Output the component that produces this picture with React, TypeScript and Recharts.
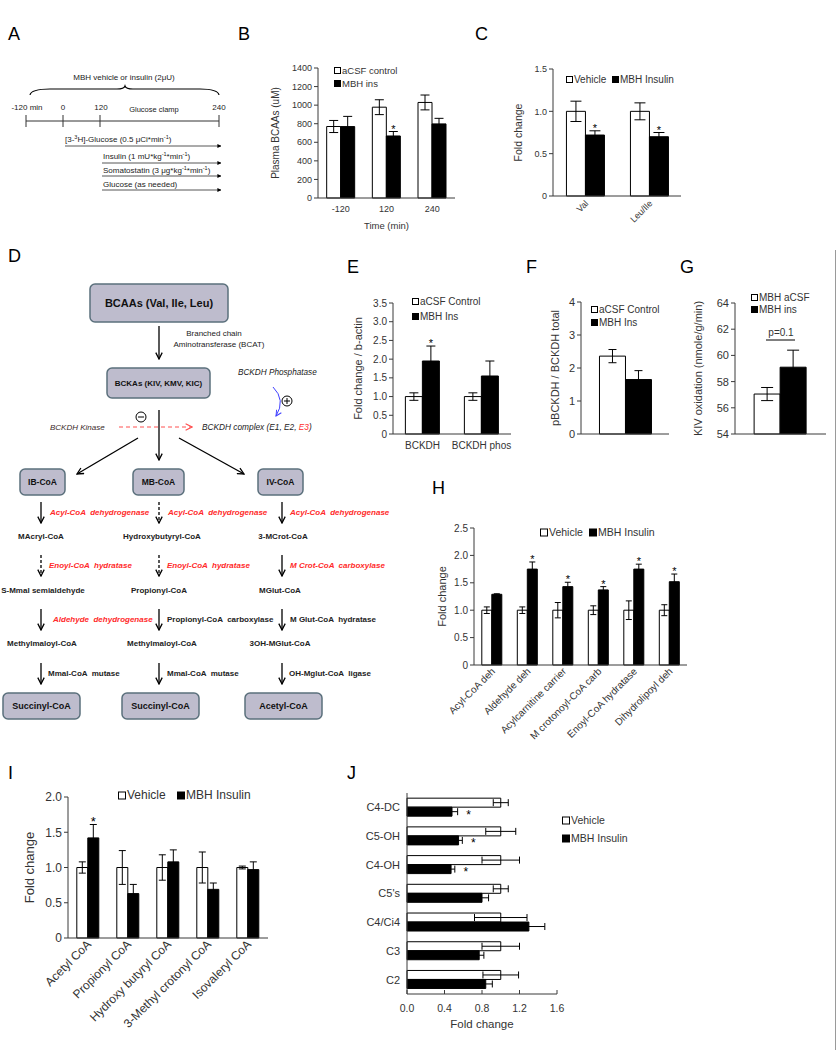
import React from 'react';
import { BarChart, Bar, XAxis, YAxis, ErrorBar, LabelList, Label } from 'recharts';

const FONT = '"Liberation Sans", Arial, Helvetica, sans-serif';
const AX = '#3a3a3a';
const TXT = '#333333';
const RED = '#ff2a2a';

// ---------- Panel B : plasma BCAAs ----------
const bCategories = ['-120', '120', '240'];
const bControl = [770, 978, 1029];
const bControlErr = [65, 80, 80];
const bIns = [769, 668, 798];
const bInsErr = [110, 48, 60];
const bStars = [false, true, false];
const bTicks = [0, 200, 400, 600, 800, 1000, 1200, 1400];

// ---------- Panel C ----------
const cCategories = ['Val', 'Leu/Ile'];
const cVehicle = [1.0, 1.0];
const cVehicleErr = [0.12, 0.1];
const cInsulin = [0.72, 0.7];
const cInsulinErr = [0.05, 0.05];
const cStars = [true, true];
const cTicks = [0, 0.5, 1.0, 1.5];

// ---------- Panel E ----------
const eCategories = ['BCKDH', 'BCKDH phos'];
const eControl = [1.0, 1.0];
const eControlErr = [0.1, 0.1];
const eIns = [1.95, 1.55];
const eInsErr = [0.4, 0.4];
const eStars = [true, false];
const eTicks = [0, 0.5, 1.0, 1.5, 2.0, 2.5, 3.0, 3.5];

// ---------- Panel F ----------
const fCategories = ['pBCKDH'];
const fControl = [2.36];
const fControlErr = [0.2];
const fIns = [1.65];
const fInsErr = [0.27];
const fStars = [false];
const fTicks = [0, 1, 2, 3, 4];

// ---------- Panel G ----------
const gCategories = ['KIV'];
const gControl = [57.05];
const gControlErr = [0.5];
const gIns = [59.1];
const gInsErr = [1.3];
const gStars = [false];
const gTicks = [54, 56, 58, 60, 62, 64];

// ---------- Panel H ----------
const hCategories = ['Acyl-CoA deh', 'Aldehyde deh', 'Acylcarnitine carrier', 'M crotonoyl-CoA carb', 'Enoyl-CoA hydratase', 'Dihydrolipoyl deh'];
const hVehicle = [1, 1, 1, 1, 1, 1];
const hVehicleErr = [0.06, 0.06, 0.14, 0.08, 0.17, 0.1];
const hInsulin = [1.29, 1.75, 1.43, 1.37, 1.75, 1.52];
const hInsulinErr = [0.01, 0.13, 0.08, 0.06, 0.09, 0.14];
const hStars = [false, true, true, true, true, true];
const hTicks = [0, 0.5, 1.0, 1.5, 2.0, 2.5];

// ---------- Panel I ----------
const iCategories = ['Acetyl CoA', 'Propionyl CoA', 'Hydroxy butyryl CoA', '3-Methyl crotonyl CoA', 'Isovaleryl CoA'];
const iVehicle = [1, 1, 1, 1, 1];
const iVehicleErr = [0.08, 0.24, 0.18, 0.22, 0.02];
const iInsulin = [1.42, 0.63, 1.08, 0.69, 0.97];
const iInsulinErr = [0.19, 0.13, 0.17, 0.09, 0.11];
const iStars = [true, false, false, false, false];
const iTicks = [0, 0.5, 1.0, 1.5, 2.0];

// ---------- Panel J ----------
const jCategories = ['C4-DC', 'C5-OH', 'C4-OH', "C5's", 'C4/Ci4', 'C3', 'C2'];
const jVehicle = [1, 1, 1, 1, 1, 1, 1];
const jVehicleErr = [0.08, 0.16, 0.2, 0.08, 0.28, 0.2, 0.19];
const jInsulin = [0.48, 0.55, 0.47, 0.8, 1.3, 0.77, 0.84];
const jInsulinErr = [0.06, 0.04, 0.04, 0.07, 0.17, 0.05, 0.07];
const jStars = [true, true, true, false, false, false, false];
const jTicks = [0, 0.4, 0.8, 1.2, 1.6];

const fmt1 = (v: number) => (v === 0 ? '0' : v.toFixed(1));
const fmtInt = (v: number) => String(v);

type Box = { left: number; top: number; width: number; height: number };
type Plot = { l: number; r: number; t: number; b: number };

interface GBProps {
  box: Box;
  plot: Plot;
  categories: string[];
  a: number[];
  aErr: number[];
  b: number[];
  bErr: number[];
  stars: boolean[];
  domain: [number, number];
  ticks: number[];
  fmt: (v: number) => string;
  gap: string;
  tickFs: number;
  yLabel: string;
  yLabelX: number;
  yLabelFs: number;
  xTick: 'none' | 'flat' | 'rot';
  xTickFs?: number;
  xTickMargin?: number;
  xLabel?: string;
  xLabelY?: number;
  xLabelFs?: number;
  starFs?: number;
  errW?: number;
}

function GroupBars(p: GBProps) {
  const data = p.categories.map((name, i) => ({
    name,
    a: p.a[i],
    aErr: p.aErr[i],
    b: p.b[i],
    bErr: p.bErr[i],
    star: p.stars[i] ? p.bErr[i] / (p.b[i] - p.domain[0]) : null,
  }));
  const margin = { top: p.plot.t - p.box.top, right: p.box.left + p.box.width - p.plot.r, left: 0, bottom: 0 };
  const yW = p.plot.l - p.box.left;
  const xH = p.box.top + p.box.height - p.plot.b;
  const cy = (p.plot.t + p.plot.b) / 2 - p.box.top;
  const cx = (p.plot.l + p.plot.r) / 2 - p.box.left;
  const starFs = p.starFs ?? 11;
  const errW = p.errW ?? 3;
  const star = (lp: any) => {
    const v = lp.value;
    if (v === null || v === undefined) return null;
    const vb = lp.viewBox ?? lp;
    const top = Math.min(vb.y, vb.y + vb.height);
    const h = Math.abs(vb.height);
    return (
      <text x={vb.x + vb.width / 2} y={top - h * v + starFs * 0.1} textAnchor="middle" fontSize={starFs} fontFamily={FONT} fill="#000">
        *
      </text>
    );
  };
  let tick: any;
  if (p.xTick === 'none') tick = false;
  else if (p.xTick === 'flat') tick = { fontSize: p.xTickFs, fill: TXT, fontFamily: FONT };
  else
    tick = (tp: any) => {
      const X = tp.x + 4;
      const Y = tp.y + 4;
      return (
        <text x={X} y={Y} transform={`rotate(-45 ${X} ${Y})`} textAnchor="end" fontSize={p.xTickFs} fill={TXT} fontFamily={FONT}>
          {tp.payload.value}
        </text>
      );
    };
  const yLX = p.yLabelX - p.box.left;
  return (
    <div style={{ position: 'absolute', left: p.box.left, top: p.box.top }}>
      <BarChart width={p.box.width} height={p.box.height} data={data} margin={margin} barGap={0} barCategoryGap={p.gap}>
        <XAxis
          dataKey="name"
          type="category"
          height={xH}
          axisLine={{ stroke: AX }}
          tickLine={false}
          tickSize={0}
          tickMargin={p.xTickMargin ?? 6}
          interval={0}
          tick={tick}
        >
          {p.xLabel ? (
            <Label
              content={() => (
                <text x={cx} y={(p.xLabelY ?? 0) - p.box.top} textAnchor="middle" dominantBaseline="central" fontSize={p.xLabelFs} fill={TXT} fontFamily={FONT}>
                  {p.xLabel}
                </text>
              )}
            />
          ) : null}
        </XAxis>
        <YAxis
          type="number"
          domain={p.domain}
          ticks={p.ticks}
          interval={0}
          tickFormatter={p.fmt}
          width={yW}
          axisLine={{ stroke: AX }}
          tickLine={{ stroke: AX }}
          tickSize={4}
          tickMargin={2}
          tick={{ fontSize: p.tickFs, fill: TXT, fontFamily: FONT }}
        >
          <Label
            content={() => (
              <text
                x={yLX}
                y={cy}
                transform={`rotate(-90 ${yLX} ${cy})`}
                textAnchor="middle"
                dominantBaseline="central"
                fontSize={p.yLabelFs}
                fill={TXT}
                fontFamily={FONT}
              >
                {p.yLabel}
              </text>
            )}
          />
        </YAxis>
        <Bar dataKey="a" fill="#ffffff" stroke="#000" strokeWidth={1} isAnimationActive={false}>
          <ErrorBar dataKey="aErr" width={errW} stroke="#000" strokeWidth={1} />
        </Bar>
        <Bar dataKey="b" fill="#000" stroke="#000" strokeWidth={1} isAnimationActive={false}>
          <ErrorBar dataKey="bErr" width={errW} stroke="#000" strokeWidth={1} />
          <LabelList dataKey="star" content={star} />
        </Bar>
      </BarChart>
    </div>
  );
}

function JChart() {
  const box = { left: 340, top: 785, width: 240, height: 250 };
  const plot = { l: 407, r: 557, t: 793, b: 994 };
  const data = jCategories.map((name, i) => ({
    name,
    a: jVehicle[i],
    aErr: jVehicleErr[i],
    b: jInsulin[i],
    bErr: jInsulinErr[i],
    star: jStars[i] ? jInsulinErr[i] / jInsulin[i] : null,
  }));
  const star = (lp: any) => {
    const v = lp.value;
    if (v === null || v === undefined) return null;
    const vb = lp.viewBox ?? lp;
    const w = Math.abs(vb.width);
    const left = Math.min(vb.x, vb.x + vb.width);
    return (
      <text x={left + w + w * v + 11} y={vb.y + vb.height / 2 + 7} textAnchor="middle" fontSize={12} fontFamily={FONT} fill="#000">
        *
      </text>
    );
  };
  const xTick = (tp: any) => (
    <g>
      <line x1={tp.x} x2={tp.x} y1={tp.y} y2={tp.y - 4} stroke={AX} />
      <text x={tp.x} y={tp.y + 18} textAnchor="middle" fontSize={10.5} fill={TXT} fontFamily={FONT}>
        {Number(tp.payload.value).toFixed(1)}
      </text>
    </g>
  );
  const cx = (plot.l + plot.r) / 2 - box.left;
  return (
    <div style={{ position: 'absolute', left: box.left, top: box.top }}>
      <BarChart
        width={box.width}
        height={box.height}
        data={data}
        layout="vertical"
        margin={{ top: plot.t - box.top, right: box.left + box.width - plot.r, left: 0, bottom: 0 }}
        barGap={0}
        barCategoryGap="18%"
      >
        <XAxis
          type="number"
          domain={[0, 1.6]}
          ticks={jTicks}
          interval={0}
          height={box.top + box.height - plot.b}
          axisLine={{ stroke: AX }}
          tickLine={false}
          tickSize={0}
          tickMargin={0}
          tick={xTick}
        >
          <Label
            content={() => (
              <text x={cx} y={1024 - box.top} textAnchor="middle" dominantBaseline="central" fontSize={11.5} fill={TXT} fontFamily={FONT}>
                Fold change
              </text>
            )}
          />
        </XAxis>
        <YAxis
          type="category"
          dataKey="name"
          width={plot.l - box.left}
          axisLine={{ stroke: AX }}
          tickLine={false}
          tickSize={0}
          tickMargin={7}
          interval={0}
          tick={{ fontSize: 11, fill: TXT, fontFamily: FONT }}
        />
        <Bar dataKey="a" fill="#ffffff" stroke="#000" strokeWidth={1} isAnimationActive={false}>
          <ErrorBar dataKey="aErr" direction="x" width={3.5} stroke="#000" strokeWidth={1} />
        </Bar>
        <Bar dataKey="b" fill="#000" stroke="#000" strokeWidth={1} isAnimationActive={false}>
          <ErrorBar dataKey="bErr" direction="x" width={3.5} stroke="#000" strokeWidth={1} />
          <LabelList dataKey="star" content={star} />
        </Bar>
      </BarChart>
    </div>
  );
}

// ---------- legend helper ----------
function Leg({ x, y, filled, text, fs }: { x: number; y: number; filled: boolean; text: string; fs: number }) {
  const s = Math.round(fs * 0.62);
  return (
    <g>
      <rect x={x + 0.5} y={y - s / 2 + 0.5} width={s} height={s} fill={filled ? '#000' : '#fff'} stroke="#000" strokeWidth={1} />
      <text x={x + s + 2} y={y} dominantBaseline="central" fontSize={fs} fill={TXT} fontFamily={FONT}>
        {text}
      </text>
    </g>
  );
}

// ---------- pathway diagram content ----------
const colX = [41, 159, 282];
const enzRows = [
  { y: 512, dashed: [false, true, false], items: [
    { x: 50, t: 'Acyl-CoA  dehydrogenase', red: true },
    { x: 168, t: 'Acyl-CoA  dehydrogenase', red: true },
    { x: 290, t: 'Acyl-CoA  dehydrogenase', red: true },
  ] },
  { y: 565, dashed: [true, true, false], items: [
    { x: 49, t: 'Enoyl-CoA  hydratase', red: true },
    { x: 167, t: 'Enoyl-CoA  hydratase', red: true },
    { x: 290, t: 'M Crot-CoA  carboxylase', red: true },
  ] },
  { y: 619, dashed: [false, false, false], items: [
    { x: 53, t: 'Aldehyde  dehydrogenase', red: true },
    { x: 167, t: 'Propionyl-CoA  carboxylase', red: false },
    { x: 290, t: 'M Glut-CoA  hydratase', red: false },
  ] },
  { y: 673, dashed: [false, false, false], items: [
    { x: 48, t: 'Mmal-CoA  mutase', red: false },
    { x: 167, t: 'Mmal-CoA  mutase', red: false },
    { x: 289, t: 'OH-Mglut-CoA  ligase', red: false },
  ] },
];
const metRows = [
  { y: 536, items: [{ x: 41, t: 'MAcryl-CoA' }, { x: 162, t: 'Hydroxybutyryl-CoA' }, { x: 283, t: '3-MCrot-CoA' }] },
  { y: 590, items: [{ x: 43, t: 'S-Mmal semialdehyde' }, { x: 159, t: 'Propionyl-CoA' }, { x: 280, t: 'MGlut-CoA' }] },
  { y: 643, items: [{ x: 42, t: 'Methylmaloyl-CoA' }, { x: 162, t: 'Methylmaloyl-CoA' }, { x: 280, t: '3OH-MGlut-CoA' }] },
];
const topBoxes = [
  { x1: 20, x2: 65, y1: 469, y2: 495, t: 'IB-CoA', fs: 8.5 },
  { x1: 133, x2: 184, y1: 469, y2: 495, t: 'MB-CoA', fs: 8.5 },
  { x1: 258, x2: 303, y1: 469, y2: 495, t: 'IV-CoA', fs: 8.5 },
  { x1: 3, x2: 80, y1: 693, y2: 719, t: 'Succinyl-CoA', fs: 9 },
  { x1: 122, x2: 199, y1: 693, y2: 719, t: 'Succinyl-CoA', fs: 9 },
  { x1: 245, x2: 322, y1: 693, y2: 719, t: 'Acetyl-CoA', fs: 9 },
  { x1: 90, x2: 228, y1: 284, y2: 322, t: 'BCAAs (Val, Ile, Leu)', fs: 11 },
  { x1: 107, x2: 210, y1: 368, y2: 398, t: 'BCKAs  (KIV, KMV, KIC)', fs: 8 },
];

function Sup({ t }: { t: string }) {
  return (
    <tspan fontSize={5.5} dy={-3}>
      {t}
    </tspan>
  );
}

function Overlay() {
  const arrow = (x: number, y1: number, y2: number, dashed: boolean, key: string) => (
    <line key={key} x1={x} x2={x} y1={y1} y2={y2} stroke="#000" strokeWidth={1.3} strokeDasharray={dashed ? '3 2' : undefined} markerEnd="url(#ah)" />
  );
  const letter = (x: number, y: number, t: string) => (
    <text x={x} y={y} fontSize={18} fontFamily={FONT} fill="#000">
      {t}
    </text>
  );
  return (
    <svg width={836} height={1050} style={{ position: 'absolute', left: 0, top: 0 }}>
      <defs>
        <marker id="ah" viewBox="0 0 10 10" refX="9" refY="5" markerWidth="8" markerHeight="8" markerUnits="userSpaceOnUse" orient="auto">
          <path d="M1,1 L9,5 L1,9" fill="none" stroke="#000" strokeWidth="1.6" />
        </marker>
        <marker id="ahr" viewBox="0 0 10 10" refX="9" refY="5" markerWidth="8" markerHeight="8" markerUnits="userSpaceOnUse" orient="auto">
          <path d="M1,1 L9,5 L1,9" fill="none" stroke="#ff5050" strokeWidth="1.4" />
        </marker>
        <marker id="ahb" viewBox="0 0 10 10" refX="9" refY="5" markerWidth="7" markerHeight="7" markerUnits="userSpaceOnUse" orient="auto">
          <path d="M1,1 L9,5 L1,9" fill="none" stroke="#4040ff" strokeWidth="1.4" />
        </marker>
        <marker id="tri" viewBox="0 0 10 10" refX="9" refY="5" markerWidth="4" markerHeight="4" markerUnits="userSpaceOnUse" orient="auto">
          <path d="M0,0 L10,5 L0,10 Z" fill="#000" />
        </marker>
      </defs>

      {/* right border */}
      <line x1={835.5} x2={835.5} y1={250} y2={1050} stroke="#9a9a9a" strokeWidth={1} />

      {/* panel letters */}
      {letter(8, 40, 'A')}
      {letter(238, 40, 'B')}
      {letter(475, 40, 'C')}
      {letter(8, 262, 'D')}
      {letter(347, 273, 'E')}
      {letter(526, 273, 'F')}
      {letter(680, 273, 'G')}
      {letter(432, 494, 'H')}
      {letter(8, 779, 'I')}
      {letter(347, 779, 'J')}

      {/* ---- Panel A ---- */}
      <g fontFamily={FONT} fontSize={8} fill="#222">
        <text x={124} y={80} textAnchor="middle">MBH vehicle or insulin (2μU)</text>
        <path d="M30,95 Q31,89 50,89 L117,89 Q124,89 125,86 Q126,89 133,89 L200,89 Q218,89 219,95" fill="none" stroke="#000" strokeWidth={1.2} />
        <text x={27} y={110} textAnchor="middle">-120 min</text>
        <text x={63} y={110} textAnchor="middle">0</text>
        <text x={101} y={110} textAnchor="middle">120</text>
        <text x={154} y={112} textAnchor="middle" fontSize={7.5}>Glucose clamp</text>
        <text x={219} y={110} textAnchor="middle">240</text>
        <line x1={26} x2={219} y1={121} y2={121} stroke="#333" strokeWidth={1} />
        {[26, 63, 100, 219].map((x) => (
          <line key={x} x1={x} x2={x} y1={115} y2={127} stroke="#333" strokeWidth={1} />
        ))}
        <text x={65} y={142}>
          [3-<Sup t="3" />
          <tspan dy={3}>H]-Glucose (0.5 μCi*min</tspan>
          <Sup t="-1" />
          <tspan dy={3}>)</tspan>
        </text>
        <line x1={65} x2={221} y1={146} y2={146} stroke="#444" strokeWidth={0.9} markerEnd="url(#tri)" />
        <text x={103} y={159}>
          Insulin (1 mU*kg<Sup t="-1" />
          <tspan dy={3}>*min</tspan>
          <Sup t="-1" />
          <tspan dy={3}>)</tspan>
        </text>
        <line x1={102} x2={221} y1={163} y2={163} stroke="#444" strokeWidth={0.9} markerEnd="url(#tri)" />
        <text x={103} y={173}>
          Somatostatin (3 μg*kg<Sup t="-1" />
          <tspan dy={3}>*min</tspan>
          <Sup t="-1" />
          <tspan dy={3}>)</tspan>
        </text>
        <line x1={102} x2={221} y1={176} y2={176} stroke="#444" strokeWidth={0.9} markerEnd="url(#tri)" />
        <text x={103} y={187}>Glucose (as needed)</text>
        <line x1={102} x2={221} y1={190} y2={190} stroke="#444" strokeWidth={0.9} markerEnd="url(#tri)" />
      </g>

      {/* ---- Panel D pathway ---- */}
      <g fontFamily={FONT}>
        {topBoxes.map((b, i) => (
          <g key={i}>
            <rect x={b.x1} y={b.y1} width={b.x2 - b.x1} height={b.y2 - b.y1} rx={5} fill="#bebccd" stroke="#5b707c" strokeWidth={1.5} />
            <text x={(b.x1 + b.x2) / 2} y={(b.y1 + b.y2) / 2} textAnchor="middle" dominantBaseline="central" fontSize={b.fs} fontWeight="bold" fill="#111">
              {b.t}
            </text>
          </g>
        ))}
        {arrow(159, 326, 359, false, 'a1')}
        <text x={214} y={336} textAnchor="middle" fontSize={8} fill="#222">Branched chain</text>
        <text x={219} y={347} textAnchor="middle" fontSize={8} fill="#222">Aminotransferase (BCAT)</text>
        <text x={238} y={375} fontSize={8.2} fontStyle="italic" fill="#222">BCKDH Phosphatase</text>
        <path d="M273,387 Q286,400 276,416" fill="none" stroke="#4040ff" strokeWidth={1} markerEnd="url(#ahb)" />
        <circle cx={287} cy={401} r={5} fill="#fff" stroke="#000" strokeWidth={1} />
        <line x1={284} x2={290} y1={401} y2={401} stroke="#000" strokeWidth={1} />
        <line x1={287} x2={287} y1={398} y2={404} stroke="#000" strokeWidth={1} />
        <circle cx={141} cy={417} r={5} fill="#fff" stroke="#000" strokeWidth={1} />
        <line x1={138} x2={144} y1={417} y2={417} stroke="#000" strokeWidth={1} />
        {arrow(159, 410, 460, false, 'a2')}
        <text x={50} y={430} fontSize={8} fontStyle="italic" fill="#3a2a2a">BCKDH Kinase</text>
        <line x1={119} x2={192} y1={427} y2={427} stroke="#ff5050" strokeWidth={1} strokeDasharray="4 3" markerEnd="url(#ahr)" />
        <text x={202} y={430} fontSize={8.3} fontStyle="italic" fill="#222">
          BCKDH complex (E1, E2, <tspan fill={RED}>E3</tspan>)
        </text>
        <line x1={138} y1={438} x2={77} y2={474} stroke="#000" strokeWidth={1.3} markerEnd="url(#ah)" />
        <line x1={179} y1={438} x2={244} y2={474} stroke="#000" strokeWidth={1.3} markerEnd="url(#ah)" />
        {enzRows.map((r, ri) => (
          <g key={'e' + ri}>
            {colX.map((x, ci) => arrow(x, r.y - 10, r.y + 11, r.dashed[ci], `r${ri}c${ci}`))}
            {r.items.map((it, ii) => (
              <text
                key={ii}
                x={it.x}
                y={r.y}
                dominantBaseline="central"
                fontSize={8}
                fontWeight="bold"
                fontStyle={it.red ? 'italic' : 'normal'}
                fill={it.red ? RED : '#222'}
                style={{ whiteSpace: 'pre' }}
              >
                {it.t}
              </text>
            ))}
          </g>
        ))}
        {metRows.map((r, ri) => (
          <g key={'m' + ri}>
            {r.items.map((it, ii) => (
              <text key={ii} x={it.x} y={r.y} textAnchor="middle" dominantBaseline="central" fontSize={8} fontWeight="bold" fill="#222">
                {it.t}
              </text>
            ))}
          </g>
        ))}
      </g>

      {/* ---- legends ---- */}
      <Leg x={334} y={70} filled={false} text="aCSF control" fs={9.5} />
      <Leg x={334} y={83} filled={true} text="MBH ins" fs={9.5} />
      <Leg x={566} y={79} filled={false} text="Vehicle" fs={10} />
      <Leg x={612} y={79} filled={true} text="MBH Insulin" fs={10} />
      <Leg x={412} y={301} filled={false} text="aCSF Control" fs={10} />
      <Leg x={412} y={316} filled={true} text="MBH Ins" fs={10} />
      <Leg x={591} y={309} filled={false} text="aCSF Control" fs={10} />
      <Leg x={591} y={322} filled={true} text="MBH Ins" fs={10} />
      <Leg x={751} y={297} filled={false} text="MBH aCSF" fs={10} />
      <Leg x={751} y={309} filled={true} text="MBH ins" fs={10} />
      <Leg x={540} y={532} filled={false} text="Vehicle" fs={10.5} />
      <Leg x={589} y={532} filled={true} text="MBH Insulin" fs={10.5} />
      <Leg x={118} y={795} filled={false} text="Vehicle" fs={12} />
      <Leg x={177} y={795} filled={true} text="MBH Insulin" fs={12} />
      <Leg x={562} y={820} filled={false} text="Vehicle" fs={10.5} />
      <Leg x={562} y={838} filled={true} text="MBH Insulin" fs={10.5} />

      {/* G annotation */}
      <text x={781} y={336} textAnchor="middle" fontSize={10} fontFamily={FONT} fill={TXT}>p=0.1</text>
      <line x1={766} x2={795} y1={340} y2={340} stroke="#000" strokeWidth={1} />
    </svg>
  );
}

export default function App() {
  return (
    <div style={{ position: 'absolute', left: 0, top: 0, width: 836, height: 1050, background: '#fff', overflow: 'hidden', fontFamily: FONT }}>
      <Overlay />
      <GroupBars
        box={{ left: 262, top: 55, width: 200, height: 180 }}
        plot={{ l: 318, r: 455, t: 68, b: 198 }}
        categories={bCategories}
        a={bControl}
        aErr={bControlErr}
        b={bIns}
        bErr={bInsErr}
        stars={bStars}
        domain={[0, 1400]}
        ticks={bTicks}
        fmt={fmtInt}
        gap="19%"
        tickFs={9}
        yLabel="Plasma BCAAs (uM)"
        yLabelX={275}
        yLabelFs={10}
        xTick="flat"
        xTickFs={9}
        xTickMargin={8}
        xLabel="Time (min)"
        xLabelY={225}
        xLabelFs={9.5}
        errW={4.5}
      />
      <GroupBars
        box={{ left: 500, top: 55, width: 190, height: 170 }}
        plot={{ l: 553, r: 681, t: 69, b: 196 }}
        categories={cCategories}
        a={cVehicle}
        aErr={cVehicleErr}
        b={cInsulin}
        bErr={cInsulinErr}
        stars={cStars}
        domain={[0, 1.5]}
        ticks={cTicks}
        fmt={fmt1}
        gap="21%"
        tickFs={9}
        yLabel="Fold change"
        yLabelX={518}
        yLabelFs={10.5}
        xTick="rot"
        xTickFs={9}
        xTickMargin={4}
        errW={5.5}
      />
      <GroupBars
        box={{ left: 345, top: 290, width: 170, height: 170 }}
        plot={{ l: 393, r: 511, t: 303, b: 434 }}
        categories={eCategories}
        a={eControl}
        aErr={eControlErr}
        b={eIns}
        bErr={eInsErr}
        stars={eStars}
        domain={[0, 3.5]}
        ticks={eTicks}
        fmt={fmt1}
        gap="21%"
        tickFs={10}
        yLabel="Fold change / b-actin"
        yLabelX={358}
        yLabelFs={11}
        xTick="flat"
        xTickFs={10}
        xTickMargin={8}
        errW={4.5}
      />
      <GroupBars
        box={{ left: 545, top: 290, width: 130, height: 170 }}
        plot={{ l: 581, r: 669, t: 302, b: 434 }}
        categories={fCategories}
        a={fControl}
        aErr={fControlErr}
        b={fIns}
        bErr={fInsErr}
        stars={fStars}
        domain={[0, 4]}
        ticks={fTicks}
        fmt={fmtInt}
        gap="21%"
        tickFs={11}
        yLabel="pBCKDH / BCKDH total"
        yLabelX={555}
        yLabelFs={11}
        xTick="none"
        errW={4}
      />
      <GroupBars
        box={{ left: 690, top: 290, width: 140, height: 170 }}
        plot={{ l: 735, r: 826, t: 303, b: 434 }}
        categories={gCategories}
        a={gControl}
        aErr={gControlErr}
        b={gIns}
        bErr={gInsErr}
        stars={gStars}
        domain={[54, 64]}
        ticks={gTicks}
        fmt={fmtInt}
        gap="21%"
        tickFs={11}
        yLabel="KIV oxidation (nmole/g/min)"
        yLabelX={698}
        yLabelFs={11}
        xTick="none"
        errW={6}
      />
      <GroupBars
        box={{ left: 425, top: 515, width: 270, height: 240 }}
        plot={{ l: 474, r: 687, t: 528, b: 665 }}
        categories={hCategories}
        a={hVehicle}
        aErr={hVehicleErr}
        b={hInsulin}
        bErr={hInsulinErr}
        stars={hStars}
        domain={[0, 2.5]}
        ticks={hTicks}
        fmt={fmt1}
        gap="22%"
        tickFs={10}
        yLabel="Fold change"
        yLabelX={442}
        yLabelFs={11}
        xTick="rot"
        xTickFs={10}
        xTickMargin={3}
        errW={3}
      />
      <GroupBars
        box={{ left: 0, top: 780, width: 280, height: 250 }}
        plot={{ l: 68, r: 268, t: 797, b: 938 }}
        categories={iCategories}
        a={iVehicle}
        aErr={iVehicleErr}
        b={iInsulin}
        bErr={iInsulinErr}
        stars={iStars}
        domain={[0, 2]}
        ticks={iTicks}
        fmt={fmt1}
        gap="22%"
        tickFs={12}
        yLabel="Fold change"
        yLabelX={29}
        yLabelFs={13}
        xTick="rot"
        xTickFs={12}
        xTickMargin={3}
        starFs={13}
        errW={3.5}
      />
      <JChart />
    </div>
  );
}
